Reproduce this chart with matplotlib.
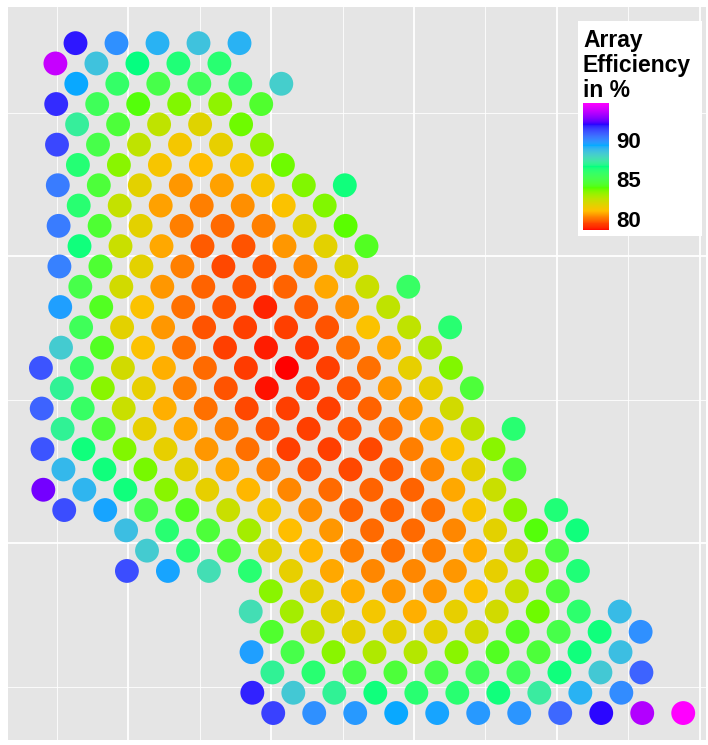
import numpy as np
import matplotlib
matplotlib.use("Agg")
import matplotlib.pyplot as plt
from matplotlib.colors import ListedColormap, hsv_to_rgb
from matplotlib.ticker import MultipleLocator

plt.rcParams['font.family'] = ['Liberation Sans', 'DejaVu Sans']

# Field layout: each row of the array lists the lattice column of its first
# element (elements in a row sit every second column) and the efficiency (%)
# of each element from west to east.
row_first_col = [3, 2, 3, 2, 3, 2, 3, 2, 3, 2, 3, 2, 3, 2, 3, 2, 1, 2, 1, 2,
                 1, 2, 1, 2, 5, 6, 5, 12, 11, 12, 11, 12, 11, 12]

row_efficiency = [
    [91.8, 89.8, 89.0, 88.5, 89.0],
    [93.6, 88.5, 86.6, 86.3, 86.1],
    [89.3, 85.8, 85.0, 85.4, 85.8, 88.1],
    [91.6, 85.4, 84.0, 83.5, 83.3, 84.4],
    [87.1, 84.6, 82.5, 81.8, 83.7],
    [91.2, 85.0, 82.5, 81.3, 81.6, 83.3],
    [86.2, 83.4, 81.2, 81.0, 81.2, 83.7],
    [90.2, 84.6, 81.7, 80.5, 80.6, 81.2, 83.5, 86.5],
    [86.1, 82.4, 80.6, 80.2, 80.4, 81.1, 83.5],
    [90.2, 84.5, 81.7, 80.2, 79.9, 80.2, 81.7, 83.9],
    [86.5, 82.3, 80.7, 79.7, 79.6, 80.5, 81.7, 84.2],
    [90.1, 84.5, 81.7, 80.2, 79.5, 79.6, 80.3, 81.8],
    [85.0, 82.1, 80.5, 79.8, 79.6, 79.8, 80.7, 82.3, 85.7],
    [89.5, 84.2, 81.1, 80.0, 79.6, 78.9, 79.7, 80.4, 82.5],
    [85.4, 81.7, 80.5, 79.6, 79.4, 79.4, 79.6, 81.1, 82.5, 86.1],
    [88.2, 84.2, 81.1, 80.0, 79.4, 78.8, 79.2, 80.0, 80.7, 82.8],
    [91.0, 85.7, 82.1, 80.8, 79.9, 79.3, 78.6, 79.4, 80.0, 81.6, 83.5],
    [87.0, 83.4, 81.6, 80.2, 79.6, 78.7, 79.3, 79.6, 80.5, 81.6, 84.6],
    [90.7, 85.7, 82.3, 80.8, 80.0, 79.5, 79.4, 79.4, 79.8, 80.5, 82.1],
    [87.0, 84.6, 81.6, 80.7, 80.2, 79.6, 79.4, 79.6, 80.0, 80.7, 82.5, 86.1],
    [91.0, 86.5, 83.5, 81.6, 80.5, 80.0, 79.4, 79.4, 79.5, 80.2, 81.1, 83.4],
    [88.8, 86.5, 83.6, 81.7, 80.7, 80.2, 79.6, 79.5, 79.7, 80.3, 81.7, 84.6],
    [92.5, 88.9, 86.5, 83.4, 81.6, 80.9, 80.3, 79.9, 79.8, 79.8, 80.7, 82.3],
    [91.1, 89.4, 85.0, 84.2, 82.3, 81.3, 80.4, 79.8, 79.8, 80.0, 81.2, 83.4, 86.3],
    [88.6, 86.1, 84.6, 83.0, 81.0, 80.5, 79.9, 79.9, 80.3, 81.7, 84.0, 86.5],
    [88.2, 86.1, 84.6, 81.7, 80.9, 80.2, 80.0, 80.2, 80.8, 82.1, 84.8],
    [91.1, 89.4, 87.6, 86.1, 81.6, 80.7, 80.3, 80.3, 80.5, 81.6, 83.4, 86.3],
    [83.4, 81.7, 80.8, 80.5, 80.5, 81.1, 82.3, 84.6],
    [87.6, 83.0, 81.7, 81.3, 80.8, 81.6, 82.1, 83.7, 86.0, 88.7],
    [84.4, 82.5, 81.7, 81.7, 81.7, 82.1, 84.2, 85.0, 86.5, 89.8],
    [89.5, 85.0, 83.4, 82.8, 82.7, 83.4, 84.2, 84.6, 86.5, 88.6],
    [87.0, 86.1, 85.0, 84.6, 85.0, 85.4, 85.4, 86.5, 88.3, 90.7],
    [91.7, 88.3, 87.0, 86.5, 86.1, 86.1, 86.5, 87.2, 89.0, 89.9],
    [91.3, 89.8, 89.6, 89.3, 89.4, 89.6, 89.7, 90.6, 91.9, 93.3, 94.6],
]

legend_title = "Array\nEfficiency\nin %"
legend_breaks = [80, 85, 90]

# Lattice geometry (metres): column pitch, row pitch and a slight shear
X0, DX, SHEAR = -39.86, 7.168, 0.14
Y0, DY = 174.2, 7.073

xs, ys, eff = [], [], []
for r, (c0, values) in enumerate(zip(row_first_col, row_efficiency)):
    for k, v in enumerate(values):
        c = c0 + 2 * k
        xs.append(X0 + DX * c + SHEAR * r)
        ys.append(Y0 - DY * r)
        eff.append(v)


# Rainbow (red -> magenta) blended in CIE Lab space between hue anchors
def srgb_to_lab(rgb):
    rgb = np.asarray(rgb, float)
    lin = np.where(rgb <= 0.04045, rgb / 12.92, ((rgb + 0.055) / 1.055) ** 2.4)
    m = np.array([[0.4124564, 0.3575761, 0.1804375],
                  [0.2126729, 0.7151522, 0.0721750],
                  [0.0193339, 0.1191920, 0.9503041]])
    xyz = lin @ m.T / np.array([0.95047, 1.0, 1.08883])
    eps = 216 / 24389
    kap = 24389 / 27
    f = np.where(xyz > eps, np.cbrt(xyz), (kap * xyz + 16) / 116)
    L = 116 * f[:, 1] - 16
    a = 500 * (f[:, 0] - f[:, 1])
    b = 200 * (f[:, 1] - f[:, 2])
    return np.stack([L, a, b], axis=1)


def lab_to_srgb(lab):
    L, a, b = lab[:, 0], lab[:, 1], lab[:, 2]
    fy = (L + 16) / 116
    fx = fy + a / 500
    fz = fy - b / 200
    eps = 216 / 24389
    kap = 24389 / 27
    xr = np.where(fx ** 3 > eps, fx ** 3, (116 * fx - 16) / kap)
    yr = np.where(L > kap * eps, fy ** 3, L / kap)
    zr = np.where(fz ** 3 > eps, fz ** 3, (116 * fz - 16) / kap)
    xyz = np.stack([xr, yr, zr], axis=1) * np.array([0.95047, 1.0, 1.08883])
    minv = np.array([[3.2404542, -1.5371385, -0.4985314],
                     [-0.9692660, 1.8760108, 0.0415560],
                     [0.0556434, -0.2040259, 1.0572252]])
    lin = np.clip(xyz @ minv.T, 0, 1)
    rgb = np.where(lin <= 0.0031308, 12.92 * lin, 1.055 * lin ** (1 / 2.4) - 0.055)
    return np.clip(rgb, 0, 1)


anchor_hue_deg = np.array([0, 15, 30, 45, 100, 150, 200, 250, 300], float)
n_anchor = len(anchor_hue_deg)
anchors = hsv_to_rgb(np.stack([anchor_hue_deg / 360, np.ones(n_anchor),
                               np.ones(n_anchor)], axis=1))
anchor_lab = srgb_to_lab(anchors)
pos = anchor_hue_deg / anchor_hue_deg[-1]
t = np.linspace(0, 1, 512)
lab = np.stack([np.interp(t, pos, anchor_lab[:, i]) for i in range(3)], axis=1)
cmap = ListedColormap(lab_to_srgb(lab))

W, H = 708, 745
fig = plt.figure(figsize=(W / 100, H / 100), dpi=100)
ax = fig.add_axes([8 / W, 5 / H, 698 / W, 733 / H])
ax.set_facecolor('#E5E5E5')
sc = ax.scatter(xs, ys, c=eff, cmap=cmap, vmin=min(eff), vmax=max(eff),
                s=295, linewidths=0, zorder=3)
ax.set_xlim(-41.96, 202.1)
ax.set_ylim(-68.6, 186.8)
ax.xaxis.set_major_locator(MultipleLocator(50))
ax.xaxis.set_minor_locator(MultipleLocator(25))
ax.yaxis.set_major_locator(MultipleLocator(100))
ax.yaxis.set_minor_locator(MultipleLocator(50))
ax.grid(which='major', color='white', linewidth=1.3)
ax.grid(which='minor', color='white', linewidth=0.6)
ax.set_axisbelow(True)
ax.tick_params(which='both', length=0, labelbottom=False, labelleft=False)
for sp in ax.spines.values():
    sp.set_visible(False)

# Legend box
lax = fig.add_axes([578 / W, 1 - 236 / H, 124 / W, 215 / H])
lax.set_facecolor('white')
lax.set_xticks([])
lax.set_yticks([])
for sp in lax.spines.values():
    sp.set_visible(False)

fig.text(583 / W, 1 - 29 / H, legend_title, fontsize=16.5, fontweight='bold',
         ha='left', va='top', linespacing=1.12, color='black')

cax = fig.add_axes([583 / W, 1 - 230 / H, 26 / W, 127 / H])
cb = fig.colorbar(sc, cax=cax, ticks=legend_breaks)
cb.outline.set_visible(False)
cax.tick_params(length=0, pad=5)
for lab_txt in cax.get_yticklabels():
    lab_txt.set_fontsize(16)
    lab_txt.set_fontweight('bold')

fig.savefig('out.png', dpi=100)
